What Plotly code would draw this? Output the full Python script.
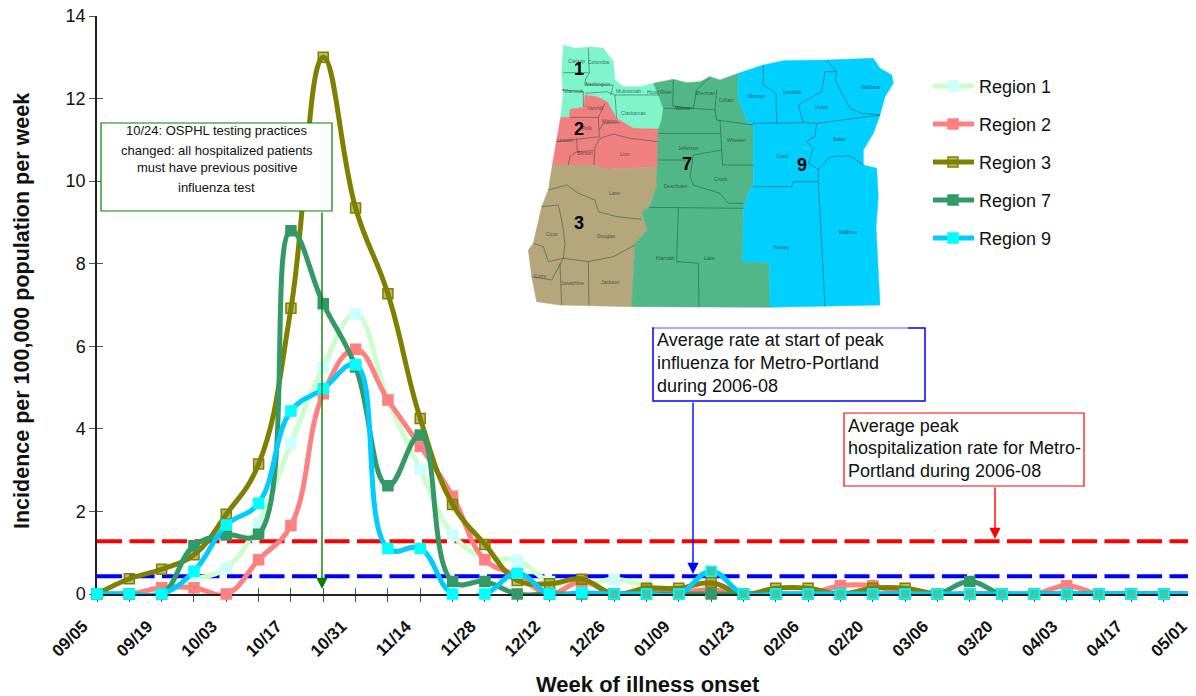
import plotly.graph_objects as go

OFFSET = 8  # the page's own margin around the figure
W, H = 1196 - OFFSET, 696 - OFFSET
L, R_EDGE, T, B = 97, 1196, 16, 594
FONT = "Liberation Sans, Arial, sans-serif"

week_labels = ["09/05","09/12","09/19","09/26","10/03","10/10","10/17","10/24","10/31","11/07","11/14","11/21",
               "11/28","12/05","12/12","12/19","12/26","01/02","01/09","01/16","01/23","01/30","02/06","02/13",
               "02/20","02/27","03/06","03/13","03/20","03/27","04/03","04/10","04/17","04/24","05/01"]
region_1 = [0,0,0.12,0.35,0.63,1.72,3.65,5.5,6.78,4.7,3.02,1.44,0.88,0.82,0.3,0.2,0.36,0.2,0.05,0.05,0,0,0,0,0,0,0,0,0,0,0,0,0,0,0]
region_2 = [0,0,0.15,0.15,0,0.83,1.66,4.85,5.93,4.7,3.58,2.37,0.83,0.45,0,0.3,0,0.1,0.05,0.1,0,0,0,0.2,0.2,0,0,0,0,0,0.2,0,0,0,0]
region_3 = [0,0.37,0.6,0.95,1.93,3.15,6.92,13.0,9.35,7.27,4.25,2.17,1.2,0.33,0.25,0.36,0,0.14,0.14,0.27,0,0.14,0.14,0,0.14,0.14,0,0,0,0,0,0,0,0,0]
region_7 = [0,0,0,1.17,1.43,1.45,8.8,7.03,5.5,2.62,3.85,0.3,0.3,0,0,0,0,0,0,0,0,0,0,0,0,0,0,0.3,0,0,0,0,0,0,0]
region_9 = [0,0,0,0.55,1.67,2.2,4.43,4.97,5.55,1.1,1.1,0,0,0.5,0,0.03,0,0,0,0.55,0,0,0,0,0,0,0,0,0,0,0,0,0,0,0]
peak_rate = 1.28
start_rate = 0.43
y_ticks = [0,2,4,6,8,10,12,14]

weeks = list(range(len(week_labels)))
tick_text = [t if i % 2 == 0 else "" for i, t in enumerate(week_labels)]

series = [
    ("Region 1", region_1, "#CCFFCC", "#CCFFFF", "#CCFFFF"),
    ("Region 2", region_2, "#FF8080", "#FF8080", "#FF8080"),
    ("Region 3", region_3, "#808000", "rgba(128,128,0,0.55)", "#808000"),
    ("Region 7", region_7, "#339966", "#339966", "#339966"),
    ("Region 9", region_9, "#00CCFF", "#00FFFF", "#00FFFF"),
]

fig = go.Figure()
for val, col in [(peak_rate, "#FF0000"), (start_rate, "#0000FF")]:
    fig.add_trace(go.Scatter(x=weeks, y=[val]*len(weeks), mode="lines", showlegend=False, hoverinfo="skip",
                             line=dict(color=col, width=4, dash="25px,7.5px")))
for name, vals, lc, mc, bc in series:
    fills = mc
    if name == "Region 9":
        fills = [mc if i < 16 else "#3CC8AA" for i in weeks]
    fig.add_trace(go.Scatter(x=weeks, y=vals, mode="lines+markers", name=name, showlegend=False, cliponaxis=False,
                             line=dict(color=lc, width=5, shape="spline", smoothing=1.2),
                             marker=dict(symbol="square", size=10, color=fills, line=dict(color=bc, width=1.5))))
# transparent companion trace: carries the inner half of the crossing tick marks
fig.add_trace(go.Scatter(x=[0], y=[0], xaxis="x2", yaxis="y2", mode="markers", opacity=0, showlegend=False, hoverinfo="skip"))


def px(x):
    return (x - OFFSET) / W


def py(y):
    return 1 - (y - OFFSET) / H


def mx(x):
    return px(520 + x / 3)


def my(y):
    return py(30 + y / 3)


def path(points, close):
    s = "M" + " L".join(f"{mx(a):.5f},{my(b):.5f}" for a, b in points)
    return s + (" Z" if close else "")


def label(x, y, text, size, color="#111111", xanchor="center", **kw):
    return dict(x=x, y=y, xref="paper", yref="paper", text=text, showarrow=False, xanchor=xanchor, yanchor="middle",
                font=dict(size=size, family=FONT, color=color), **kw)


map_regions = [
    ("#80F5CC", [(130,45),(165,55),(210,50),(250,55),(280,95),(285,150),(310,170),(360,170),(400,160),(415,195),(430,235),(425,270),(415,297),(340,295),(290,265),(262,215),(230,200),(195,195),(190,230),(150,240),(148,262),(122,262),(130,190),(125,130)]),
    ("#F08080", [(122,262),(148,262),(150,238),(190,232),(195,195),(230,200),(262,215),(290,265),(340,295),(415,297),(415,410),(250,418),(225,405),(97,405),(110,330)]),
    ("#B5A67C", [(97,405),(225,405),(250,418),(415,410),(410,470),(388,530),(365,545),(382,600),(345,640),(335,830),(120,825),(50,815),(35,740),(25,660),(40,640),(65,530),(85,480)]),
    ("#52B788", [(400,160),(460,148),(500,158),(540,155),(570,140),(600,150),(655,130),(655,210),(685,280),(700,285),(700,470),(688,480),(670,540),(668,695),(748,697),(750,832),(335,830),(345,640),(382,600),(365,545),(388,530),(410,470),(415,297),(425,270),(430,235),(415,195)]),
    ("#00CFFF", [(655,130),(730,105),(790,92),(920,90),(1060,85),(1080,115),(1115,135),(1120,160),(1095,200),(1080,255),(1060,310),(1030,360),(1030,405),(1070,415),(1075,500),(1068,590),(1080,825),(750,832),(748,697),(668,695),(670,540),(688,480),(700,470),(700,285),(685,280),(655,210)]),
]
county_lines = [
    [(205,55),(208,130),(195,150),(200,165),(280,165)], [(130,128),(205,128)], [(125,180),(190,185),(190,230)],
    [(195,190),(260,185),(285,195),(290,265)], [(285,195),(420,195)], [(280,165),(272,195)],
    [(150,262),(235,262),(255,220)], [(235,262),(238,320),(110,335)], [(170,325),(172,365),(150,378),(145,405)],
    [(172,365),(222,362)], [(225,350),(240,325),(280,312),(330,325),(415,335)], [(225,350),(222,405)],
    [(238,300),(250,280),(300,278)],
    [(85,480),(140,465),(175,490),(225,510),(235,545),(290,560),(365,568)], [(65,530),(115,525),(125,570),(135,640),(130,685)],
    [(40,640),(70,650),(85,695),(130,685),(205,695),(280,680),(345,645)], [(130,685),(95,750),(35,740)],
    [(120,700),(125,825)], [(205,695),(207,825)],
    [(415,310),(600,310)], [(460,150),(458,228),(520,235),(585,240),(590,270),(700,285)], [(430,235),(520,235)],
    [(520,235),(530,180),(570,140)], [(585,240),(590,180)],
    [(600,270),(605,360),(520,375),(510,440),(520,465),(600,490),(625,520),(670,520)], [(605,360),(608,405),(700,405)],
    [(415,390),(510,390)], [(388,532),(670,535)], [(475,535),(470,695),(535,700),(537,830)],
    [(730,105),(730,165),(768,190),(770,280)],
    [(700,280),(850,278),(835,225),(860,210),(905,185),(915,125),(950,125),(945,150),(990,235),(1025,250),(1080,255)],
    [(920,90),(950,125)], [(850,278),(890,280),(1080,255)],
    [(890,280),(885,320),(860,335),(880,355),(865,400),(895,418),(930,380),(990,378),(1030,405)],
    [(700,470),(815,470),(820,455),(895,455),(895,418)], [(895,455),(915,830)],
]
county_names = [("Clatsop",170,93),("Columbia",235,95),("Tillamook",158,183),("Washington",230,162),("Multnomah",325,183),
    ("Clackamas",340,248),("Yamhill",225,233),("Marion",270,272),("Polk",200,293),("Lincoln",135,330),("Linn",315,373),
    ("Benton",195,368),("Lane",282,490),("Coos",95,612),("Douglas",258,618),("Curry",62,737),("Josephine",158,760),
    ("Jackson",272,755),("Hood River",418,187),("Wasco",488,235),("Sherman",555,188),("Gilliam",620,210),("Wheeler",650,330),
    ("Jefferson",505,355),("Crook",603,447),("Deschutes",468,467),("Klamath",435,683),("Lake",567,685),("Morrow",710,197),
    ("Umatilla",815,187),("Union",905,232),("Wallowa",1050,172),("Baker",958,328),("Grant",788,377),("Harney",785,652),("Malheur",985,607)]
region_numbers = [("1",177,118),("2",177,298),("3",177,580),("7",500,403),("9",847,405)]

shapes = []
ann = []
for col, pts in map_regions:
    shapes.append(dict(type="path", xref="paper", yref="paper", path=path(pts, True), fillcolor=col, line=dict(color=col, width=0.5)))
for pts in county_lines:
    shapes.append(dict(type="path", xref="paper", yref="paper", path=path(pts, False), line=dict(color="rgba(20,70,60,0.6)", width=0.8)))
for name, a, b in county_names:
    ann.append(label(mx(a), my(b), name, 5, "rgba(30,50,50,0.75)"))
for num, a, b in region_numbers:
    ann.append(label(mx(a), my(b), f"<b>{num}</b>", 18, "#000000"))

# legend
for (name, vals, lc, mc, bc), ly in zip(series, [86, 124, 162, 200, 238]):
    shapes.append(dict(type="line", xref="paper", yref="paper", x0=px(933), x1=px(974), y0=py(ly), y1=py(ly), line=dict(color=lc, width=5)))
    shapes.append(dict(type="rect", xref="paper", yref="paper", x0=px(948), x1=px(958), y0=py(ly+5), y1=py(ly-5),
                       fillcolor=mc, line=dict(color=bc, width=1.5)))
    ann.append(label(px(977), py(ly + 1), name, 18, xanchor="left"))

# callout boxes
boxes = [
    (101, 123, 332, 211, "#008000", ["10/24: OSPHL testing practices", "changed: all hospitalized patients", "must have previous positive", "influenza test"],
     216.5, "center", [131, 150, 168, 187], 13, 1.2),
    (653, 328, 925, 401, "#0000FF", ["Average rate at start of peak", "influenza for Metro-Portland", "during 2006-08"],
     655, "left", [340, 363, 386], 18, 1.5),
    (844, 413, 1084, 486, "#FF0000", ["Average peak", "hospitalization rate for Metro-", "Portland during 2006-08"],
     846, "left", [426, 448, 471], 18, 1.2),
]
for x0, y0, x1, y1, col, lines, tx, anchor, ys, size, bw in boxes:
    shapes.append(dict(type="rect", xref="paper", yref="paper", x0=px(x0), x1=px(x1), y0=py(y1), y1=py(y0),
                       fillcolor="#FFFFFF", line=dict(color=col, width=bw)))
    for line, yy in zip(lines, ys):
        ann.append(label(px(tx), py(yy), line, size, xanchor=anchor))
# the blue box's top edge is almost erased along most of its length
shapes.append(dict(type="line", xref="paper", yref="paper", x0=px(654), x1=px(908), y0=py(328), y1=py(328), line=dict(color="#D0D0FF", width=1.5)))

# arrows
for xp, y0, y1, col in [(322, 211, 589, "#008000"), (693, 401, 574, "#0000FF"), (995, 486, 539, "#FF0000")]:
    ann.append(dict(x=px(xp), y=py(y1), ax=0, ay=y0 - y1, xref="paper", yref="paper", axref="pixel", ayref="pixel",
                    text="", showarrow=True, arrowhead=2, arrowsize=1.6, arrowwidth=1.4, arrowcolor=col))

ann.append(label(px(22), py(311), "<b>Incidence per 100,000 population per week</b>", 21.5, textangle=-90))
ann.append(label(px(648), py(684), "<b>Week of illness onset</b>", 22))

xdomain = [px(L), px(R_EDGE)]
ydomain = [py(B), py(T)]
axis_common = dict(showgrid=False, zeroline=False, showline=True, linecolor="#222222", linewidth=1.5, ticklabeloverflow="allow", layer="below traces")
fig.update_layout(
    width=W, height=H, margin=dict(l=0, r=0, t=0, b=0, autoexpand=False), paper_bgcolor="#FFFFFF", plot_bgcolor="#FFFFFF",
    showlegend=False, shapes=shapes, annotations=ann, font=dict(family=FONT, color="#111111"),
    xaxis=dict(domain=xdomain, range=[0, 34], tickmode="array", tickvals=weeks, ticktext=[f"<b>{t}</b>" if t else "" for t in tick_text],
               tickangle=-45, ticks="outside", ticklen=6, tickwidth=1.2, tickcolor="#555555", ticklabelshift=-14, ticklabelstandoff=8,
               tickfont=dict(size=17, family=FONT, color="#111111"), **axis_common),
    yaxis=dict(domain=ydomain, range=[0, 14], tickmode="array", tickvals=y_ticks, ticks="outside", ticklen=6, tickwidth=1.2,
               tickcolor="#555555", tickfont=dict(size=18, family=FONT, color="#111111"), **axis_common),
    xaxis2=dict(domain=xdomain, range=[0, 34], overlaying="x", anchor="y2", tickmode="array", tickvals=weeks, ticks="inside", ticklen=6,
                tickwidth=1.2, tickcolor="#555555", showticklabels=False, showgrid=False, zeroline=False, layer="below traces"),
    yaxis2=dict(domain=ydomain, range=[0, 14], overlaying="y", anchor="x2", tickmode="array", tickvals=y_ticks, ticks="inside", ticklen=6,
                tickwidth=1.2, tickcolor="#555555", showticklabels=False, showgrid=False, zeroline=False, layer="below traces"),
)
fig.write_html("out.html")
